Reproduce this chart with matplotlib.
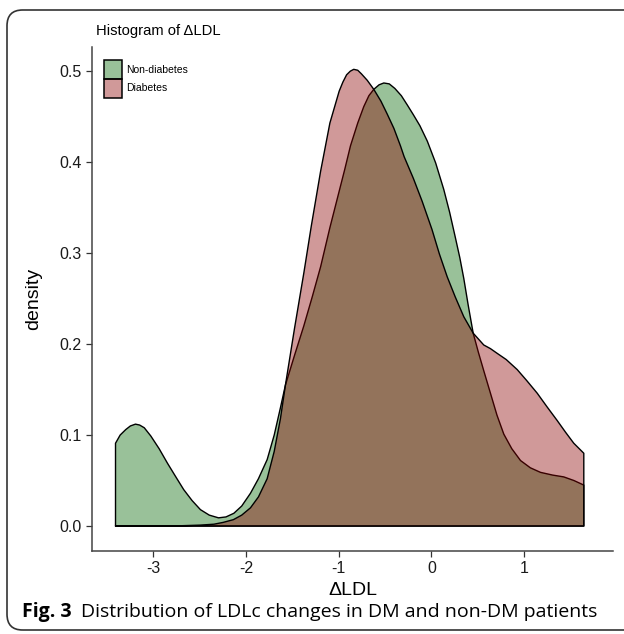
import numpy as np
import matplotlib
matplotlib.use("Agg")
import matplotlib.pyplot as plt
from matplotlib.patches import Patch, FancyBboxPatch
from matplotlib.colors import to_rgba

plt.rcParams['font.family'] = ['Liberation Sans', 'DejaVu Sans']
plt.rcParams['axes.unicode_minus'] = False

# density curves (x = change in LDL)
nd_x = [-3.41, -3.36, -3.30, -3.25, -3.195, -3.15, -3.10, -3.03, -2.94, -2.85,
        -2.76, -2.675, -2.585, -2.495, -2.40, -2.30, -2.22, -2.135, -2.05, -1.956,
        -1.87, -1.776, -1.70, -1.633, -1.579, -1.48, -1.381, -1.29, -1.20, -1.10,
        -1.00, -0.94, -0.878, -0.80, -0.735, -0.68, -0.627, -0.57, -0.519, -0.46,
        -0.40, -0.33, -0.267, -0.20, -0.13, -0.05, 0.04, 0.127, 0.19, 0.25,
        0.30, 0.343, 0.39, 0.444, 0.50, 0.56, 0.63, 0.70, 0.774, 0.86,
        0.954, 1.06, 1.169, 1.30, 1.42, 1.53, 1.636]
nd_y = [0.091, 0.100, 0.106, 0.110, 0.112, 0.111, 0.108, 0.099, 0.085, 0.069,
        0.054, 0.040, 0.028, 0.018, 0.012, 0.009, 0.010, 0.014, 0.022, 0.036,
        0.052, 0.073, 0.100, 0.130, 0.155, 0.188, 0.220, 0.252, 0.285, 0.328,
        0.368, 0.392, 0.418, 0.443, 0.461, 0.473, 0.480, 0.485, 0.487, 0.486,
        0.481, 0.473, 0.463, 0.452, 0.440, 0.423, 0.399, 0.370, 0.345, 0.318,
        0.295, 0.272, 0.243, 0.212, 0.191, 0.170, 0.146, 0.122, 0.101, 0.085,
        0.072, 0.064, 0.059, 0.056, 0.054, 0.050, 0.045]

dm_x = [-3.41, -2.80, -2.50, -2.35, -2.25, -2.14, -2.05, -1.956, -1.87, -1.776,
        -1.70, -1.633, -1.579, -1.48, -1.381, -1.30, -1.20, -1.10, -1.00, -0.96,
        -0.92, -0.88, -0.843, -0.80, -0.76, -0.698, -0.627, -0.55, -0.483, -0.41,
        -0.34, -0.30, -0.20, -0.106, 0.0, 0.08, 0.164, 0.25, 0.343, 0.444,
        0.558, 0.63, 0.70, 0.80, 0.918, 1.02, 1.134, 1.24, 1.349, 1.44,
        1.528, 1.636]
dm_y = [0.0, 0.0, 0.001, 0.002, 0.004, 0.007, 0.012, 0.020, 0.032, 0.052,
        0.082, 0.118, 0.155, 0.218, 0.278, 0.330, 0.390, 0.443, 0.478, 0.488,
        0.496, 0.500, 0.502, 0.501, 0.497, 0.490, 0.480, 0.467, 0.453, 0.437,
        0.418, 0.406, 0.382, 0.357, 0.326, 0.299, 0.274, 0.252, 0.230, 0.212,
        0.199, 0.195, 0.190, 0.183, 0.172, 0.160, 0.146, 0.131, 0.116, 0.103,
        0.091, 0.080]

groups = ["Non-diabetes", "Diabetes"]
fills = [to_rgba("darkgreen", 0.4), to_rgba("darkred", 0.4)]

fig = plt.figure(figsize=(6.24, 6.34), dpi=100)
ax = fig.add_axes([92/624, 83/634, 521/624, 504/634])

ax.fill_between(nd_x, 0, nd_y, facecolor=fills[0], edgecolor="black", linewidth=1.0)
ax.fill_between(dm_x, 0, dm_y, facecolor=fills[1], edgecolor="black", linewidth=1.0)

ax.set_xlim(-3.658, 1.956)
ax.set_ylim(-0.028, 0.526)
ax.set_xticks([-3, -2, -1, 0, 1])
ax.set_yticks([0.0, 0.1, 0.2, 0.3, 0.4, 0.5])
ax.set_yticklabels(["0.0", "0.1", "0.2", "0.3", "0.4", "0.5"])
ax.tick_params(labelsize=11.5, colors="#333333", labelcolor="#1a1a1a", length=4, width=0.9)
for s in ["top", "right"]:
    ax.spines[s].set_visible(False)
for s in ["left", "bottom"]:
    ax.spines[s].set_color("#444444")
    ax.spines[s].set_linewidth(1.1)

ax.set_xlabel("ΔLDL", fontsize=14, labelpad=4)
ax.set_ylabel("density", fontsize=14, labelpad=12)

handles = [Patch(facecolor=fills[i], edgecolor="black", linewidth=1.1) for i in range(2)]
ax.legend(handles, groups, loc="upper left", bbox_to_anchor=(12/521, 1 - 13/504),
          frameon=False, fontsize=7.5, handlelength=1.7, handleheight=2.4,
          labelspacing=0.0, handletextpad=0.45, borderaxespad=0.0, borderpad=0.0)

fig.text(96/624, 1 - 31/634, "Histogram of ΔLDL", fontsize=10.6, va="center", ha="left")

# caption
cap_y = 1 - 612/634
t1 = fig.text(22/624, cap_y, "Fig. 3", fontsize=14, fontweight="bold",
              family=["Open Sans", "DejaVu Sans"], va="center", ha="left")
fig.canvas.draw()
bb = t1.get_window_extent()
fig.text((bb.x1 + 9)/624, cap_y, "Distribution of LDLc changes in DM and non-DM patients",
         fontsize=14, family=["Open Sans", "DejaVu Sans"], va="center", ha="left")

# rounded frame around the figure
frame = FancyBboxPatch((7/624, 4/634), 1.1, 620/634, boxstyle="round,pad=0,rounding_size=0.025",
                       transform=fig.transFigure, facecolor="none", edgecolor="#333333",
                       linewidth=1.2, clip_on=False)
fig.patches.append(frame)

fig.savefig("out.png", dpi=100)
